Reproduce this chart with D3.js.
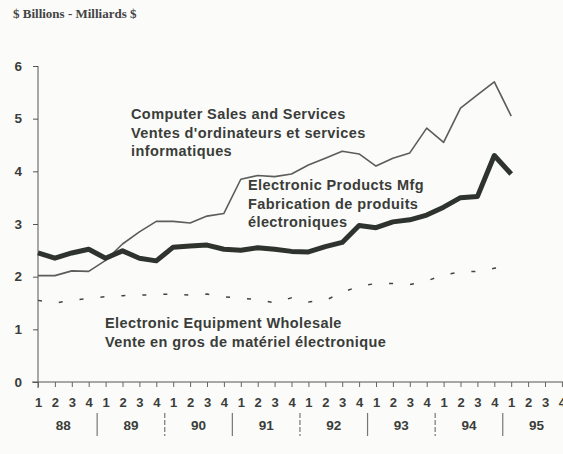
<!DOCTYPE html>
<html>
<head>
<meta charset="utf-8">
<script src="https://cdn.jsdelivr.net/npm/d3@7"></script>
<style>
  body { margin: 0; background: #fbfbf9; }
  .lbl { font-family: Arial, "Liberation Sans", sans-serif; font-weight: bold; fill: #3a3d39; }
</style>
</head>
<body>
<script>
// Quarter / year labels
var quarterLabels = ["1","2","3","4","1","2","3","4","1","2","3","4","1","2","3","4",
                     "1","2","3","4","1","2","3","4","1","2","3","4","1","2","3","4"];
var yearLabels = ["88", "89", "90", "91", "92", "93", "94", "95"];
var yTicks = [0, 1, 2, 3, 4, 5, 6];

// Series values, 1988 Q1 to 1995 Q1 ($ billions)
var computerSales = [2.02, 2.02, 2.11, 2.10, 2.31, 2.62, 2.85, 3.05, 3.05, 3.02,
                     3.15, 3.20, 3.85, 3.92, 3.90, 3.95, 4.12, 4.25, 4.38, 4.33,
                     4.10, 4.25, 4.35, 4.82, 4.55, 5.20, 5.45, 5.70, 5.05];
var electronicMfg = [2.45, 2.35, 2.45, 2.52, 2.35, 2.49, 2.35, 2.30, 2.56, 2.58,
                     2.60, 2.52, 2.50, 2.55, 2.52, 2.48, 2.47, 2.57, 2.65, 2.97,
                     2.93, 3.04, 3.08, 3.17, 3.32, 3.50, 3.52, 4.30, 3.95];
var wholesale = [1.55, 1.50, 1.55, 1.59, 1.62, 1.64, 1.65, 1.66, 1.67, 1.65,
                 1.67, 1.62, 1.59, 1.57, 1.50, 1.60, 1.52, 1.55, 1.70, 1.82,
                 1.87, 1.87, 1.85, 1.92, 2.03, 2.09, 2.10, 2.16, 2.20];

var svgWidth = 563;
var svgHeight = 454;

var svg = d3.select("body")
  .append("svg")
  .attr("width", svgWidth)
  .attr("height", svgHeight);

// Scales
var x = d3.scaleLinear().domain([0, 31]).range([38, 38 + 16.9 * 31]);
var y = d3.scaleLinear().domain([0, 6]).range([382, 66]);

// Unit title
svg.append("text")
  .attr("x", 13)
  .attr("y", 18)
  .style("font-family", "'Liberation Serif', 'Times New Roman', serif")
  .style("font-weight", "bold")
  .style("font-size", "13px")
  .style("fill", "#444")
  .text("$ Billions - Milliards $");

// Y axis
var leftAxis = d3.axisLeft(y)
  .tickValues(yTicks)
  .tickFormat(d3.format("d"))
  .tickSize(5)
  .tickPadding(11);
var yAxis = svg.append("g")
  .attr("transform", "translate(38,0)")
  .call(leftAxis);
yAxis.select(".domain").attr("d", "M0,66V388").attr("stroke", "#555");
yAxis.selectAll(".tick line").attr("stroke", "#555");
yAxis.selectAll("text")
  .attr("class", "lbl")
  .style("font-size", "13.5px")
  .attr("fill", null);

// X axis with a tick per quarter
var bottomAxis = d3.axisBottom(x)
  .tickValues(d3.range(quarterLabels.length))
  .tickFormat(function (d) { return quarterLabels[d]; })
  .tickSize(5)
  .tickPadding(11);
var xAxis = svg.append("g")
  .attr("transform", "translate(0,382)")
  .call(bottomAxis);
xAxis.select(".domain").attr("d", "M32,0H563").attr("stroke", "#555");
xAxis.selectAll(".tick line").attr("stroke", "#666");
xAxis.selectAll("text")
  .attr("class", "lbl")
  .style("font-size", "13px")
  .attr("fill", null);

// Year labels and separators
yearLabels.forEach(function (yr, k) {
  svg.append("text")
    .attr("class", "lbl")
    .attr("x", x(4 * k + 1.5))
    .attr("y", 430)
    .attr("text-anchor", "middle")
    .style("font-size", "13.5px")
    .text(yr);
  if (k > 0) {
    svg.append("line")
      .attr("x1", x(4 * k - 0.5)).attr("x2", x(4 * k - 0.5))
      .attr("y1", 413).attr("y2", 436)
      .attr("stroke", "#777")
      .attr("stroke-width", 1.2)
      .attr("stroke-dasharray", k % 2 ? "23,0" : "5,2");
  }
});

// Line generator
var line = d3.line()
  .x(function (d, i) { return x(i); })
  .y(function (d) { return y(d); });

// Wholesale, dashed
svg.append("path")
  .datum(wholesale)
  .attr("d", line)
  .attr("fill", "none")
  .attr("stroke", "#444")
  .attr("stroke-width", 1.5)
  .attr("stroke-dasharray", "4,17");

// Computer sales, thin
svg.append("path")
  .datum(computerSales)
  .attr("d", line)
  .attr("fill", "none")
  .attr("stroke", "#5a5d58")
  .attr("stroke-width", 1.6)
  .attr("stroke-linejoin", "round");

// Electronic products mfg, thick
svg.append("path")
  .datum(electronicMfg)
  .attr("d", line)
  .attr("fill", "none")
  .attr("stroke", "#2e332d")
  .attr("stroke-width", 5)
  .attr("stroke-linejoin", "round");

// Series annotations
function addLabel(lines, lx, ly) {
  var t = svg.append("text")
    .attr("class", "lbl")
    .style("font-size", "14.5px")
    .style("letter-spacing", "0.4px");
  lines.forEach(function (s, i) {
    t.append("tspan").attr("x", lx).attr("y", ly + i * 18.5).text(s);
  });
}
addLabel(["Computer Sales and Services", "Ventes d'ordinateurs et services", "informatiques"], 131, 119);
addLabel(["Electronic Products Mfg", "Fabrication de produits", "électroniques"], 248, 190);
addLabel(["Electronic Equipment Wholesale", "Vente en gros de matériel électronique"], 105, 328);
</script>
</body>
</html>
